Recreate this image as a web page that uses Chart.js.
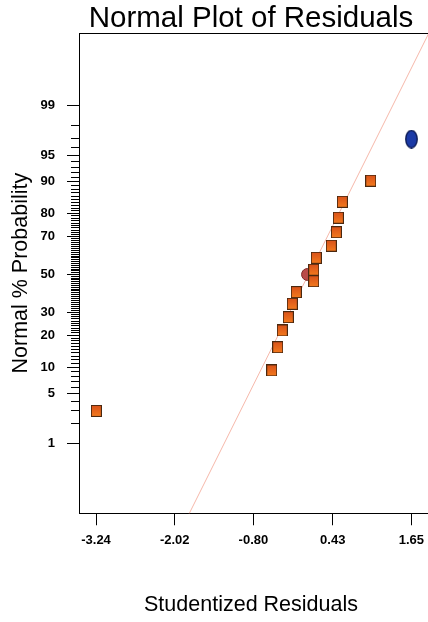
<!DOCTYPE html>
<html>
<head>
<meta charset="utf-8">
<script src="https://cdn.jsdelivr.net/npm/chart.js@4.4.1/dist/chart.umd.min.js"></script>
<style>
  html, body { margin:0; padding:0; background:#fff; overflow:hidden; }
  #wrap { width:502px; height:622px; }
</style>
</head>
<body>
<div id="wrap"><canvas id="npp" width="502" height="622"></canvas></div>
<script>
/* ====== データ（読み取り値） ====== */
// 残差（横軸）と正規確率％（縦軸）
const residuals     = [-3.235, -0.516, -0.423, -0.352, -0.259, -0.197, -0.135, 0.135, 0.135, 0.175, 0.408, 0.486, 0.517, 0.579, 1.019];
const probabilities = [3.0, 9.3, 15.8, 22.0, 27.8, 34.3, 40.4, 46.3, 52.6, 59.1, 65.4, 72.0, 78.3, 84.2, 90.2];
const centerResidual = [0.04],  centerProb = [50.0];
const outlierResidual = [1.65], outlierProb = [96.9];
// 基準線（両端、縦は z 値）
const fitLineX = [-2.0, 2.0];
const fitLineZ = [-3.662, 3.470];

const xTickValues = [-3.24, -2.02, -0.80, 0.43, 1.65];
const xTickLabels = ['-3.24', '-2.02', '-0.80', '0.43', '1.65'];
const yMajorTicks = [1, 5, 10, 20, 30, 50, 70, 80, 90, 95, 99];
const yAllTicks   = Array.from({length: 99}, (_, i) => i + 1); // 1〜99%

const X_MIN = -3.504, X_MAX = 2.946;
const Z_MIN = -3.292, Z_MAX = 3.329;

/* ====== 正規分位点（Acklam） ====== */
function probit(p){
  const a=[-3.969683028665376e+01,2.209460984245205e+02,-2.759285104469687e+02,1.383577518672690e+02,-3.066479806614716e+01,2.506628277459239e+00];
  const b=[-5.447609879822406e+01,1.615858368580409e+02,-1.556989798598866e+02,6.680131188771972e+01,-1.328068155288572e+01];
  const c=[-7.784894002430293e-03,-3.223964580411365e-01,-2.400758277161838e+00,-2.549732539343734e+00,4.374664141464968e+00,2.938163982698783e+00];
  const d=[7.784695709041462e-03,3.224671290700398e-01,2.445134137142996e+00,3.754408661907416e+00];
  const pl=0.02425, ph=1-pl; let q, r;
  if (p < pl){ q=Math.sqrt(-2*Math.log(p)); return (((((c[0]*q+c[1])*q+c[2])*q+c[3])*q+c[4])*q+c[5])/((((d[0]*q+d[1])*q+d[2])*q+d[3])*q+1); }
  if (p <= ph){ q=p-0.5; r=q*q; return (((((a[0]*r+a[1])*r+a[2])*r+a[3])*r+a[4])*r+a[5])*q/(((((b[0]*r+b[1])*r+b[2])*r+b[3])*r+b[4])*r+1); }
  q=Math.sqrt(-2*Math.log(1-p)); return -(((((c[0]*q+c[1])*q+c[2])*q+c[3])*q+c[4])*q+c[5])/((((d[0]*q+d[1])*q+d[2])*q+d[3])*q+1);
}
const toPoints = (xs, ps) => xs.map((x, i) => ({ x, y: probit(ps[i] / 100) }));

/* ====== マーカー画像 ====== */
function makeBox(w, h){
  const cv = document.createElement('canvas'); cv.width = w; cv.height = h;
  const g = cv.getContext('2d');
  const grad = g.createLinearGradient(0, 0, 0, h);
  grad.addColorStop(0, '#d8501a'); grad.addColorStop(1, '#f47c1e');
  g.fillStyle = grad; g.fillRect(0, 0, w, h);
  g.strokeStyle = '#4a2810'; g.lineWidth = 1; g.strokeRect(0.5, 0.5, w - 1, h - 1);
  return cv;
}
function makeEllipse(w, h){
  const cv = document.createElement('canvas'); cv.width = w; cv.height = h;
  const g = cv.getContext('2d');
  g.beginPath(); g.ellipse(w/2, h/2, w/2 - 0.8, h/2 - 0.8, 0, 0, Math.PI*2);
  g.fillStyle = '#1b3aa6'; g.fill();
  g.strokeStyle = '#0b1a55'; g.lineWidth = 1.4; g.stroke();
  return cv;
}

/* ====== グラフ ====== */
const FONT = '"Liberation Sans", Arial, Helvetica, sans-serif';
Chart.defaults.font.family = FONT;
Chart.defaults.color = '#000';

new Chart(document.getElementById('npp').getContext('2d'), {
  type: 'scatter',
  data: {
    datasets: [
      { label: 'fit', data: fitLineX.map((x, i) => ({ x, y: fitLineZ[i] })), showLine: true,
        borderColor: '#f6b8aa', borderWidth: 1, pointRadius: 0, order: 3 },
      { label: 'center', data: toPoints(centerResidual, centerProb), pointStyle: 'circle', pointRadius: 6,
        backgroundColor: '#b94a48', borderColor: '#7d2a28', borderWidth: 1, order: 2 },
      { label: 'runs', data: toPoints(residuals, probabilities), pointStyle: makeBox(11, 12), order: 1 },
      { label: 'outlier', data: toPoints(outlierResidual, outlierProb), pointStyle: makeEllipse(13, 19), order: 0 }
    ]
  },
  options: {
    responsive: false, animation: false, events: [],
    layout: { padding: 0 },
    plugins: {
      legend: { display: false }, tooltip: { enabled: false },
      title: { display: true, text: 'Normal Plot of Residuals', color: '#000',
               font: { size: 29.5, weight: 'normal', lineHeight: 0.95 }, padding: { top: 5, bottom: 0 } },
      subtitle: { display: true, position: 'bottom', text: 'Studentized Residuals', color: '#000',
                  font: { size: 21.5, weight: 'normal', lineHeight: 1 }, padding: { top: 31.5, bottom: 6.25 } }
    },
    scales: {
      x: {
        type: 'linear', position: 'bottom', min: X_MIN, max: X_MAX,
        afterBuildTicks: s => { s.ticks = xTickValues.map(v => ({ value: v })); },
        afterFit: s => { s.height = 49.5; },
        grid: { drawOnChartArea: false, tickLength: 12, tickColor: '#000', tickWidth: 1 },
        border: { color: '#000', width: 1 },
        ticks: { autoSkip: false, maxRotation: 0, padding: 7, font: { size: 13, weight: 'bold' },
                 callback: (v, i) => xTickLabels[i] }
      },
      xTop: {
        type: 'linear', position: 'top', min: X_MIN, max: X_MAX,
        afterFit: s => { s.height = 0; },
        grid: { drawOnChartArea: false, drawTicks: false },
        border: { color: '#000', width: 1 },
        ticks: { display: false }
      },
      y: {
        type: 'linear', position: 'left', min: Z_MIN, max: Z_MAX,
        afterBuildTicks: s => { s.ticks = yAllTicks.map(p => ({ value: probit(p / 100) })); },
        afterFit: s => { s.width = 79; },
        grid: { drawOnChartArea: false, tickLength: 12, tickColor: '#000', tickWidth: 1,
                // 目盛なしの％は内側 8px だけ
                tickBorderDash: c => yMajorTicks.includes(yAllTicks[c.index]) ? [] : [8, 20],
                tickBorderDashOffset: c => yMajorTicks.includes(yAllTicks[c.index]) ? 0 : 24 },
        border: { color: '#000', width: 1 },
        ticks: { autoSkip: false, padding: 12, font: { size: 13, weight: 'bold' },
                 callback: (v, i) => yMajorTicks.includes(yAllTicks[i]) ? String(yAllTicks[i]) : '' },
        title: { display: true, text: 'Normal % Probability', color: '#000',
                 font: { size: 21.5, weight: 'normal', lineHeight: 1 }, padding: { top: 10, bottom: 0 } }
      }
    }
  }
});
</script>
</body>
</html>
